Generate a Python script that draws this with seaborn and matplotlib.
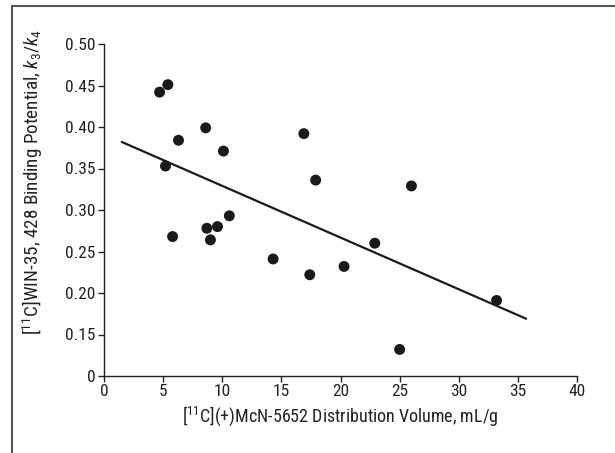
import numpy as np
import pandas as pd
import matplotlib
matplotlib.use("Agg")
import matplotlib.pyplot as plt
import seaborn as sns
from matplotlib import font_manager
from matplotlib.lines import Line2D

# data
mcn_volume = [4.7, 5.4, 6.3, 5.2, 8.6, 10.1, 16.9, 17.9, 5.8, 8.7,
              9.0, 9.6, 10.6, 14.3, 17.4, 22.9, 20.3, 26.0, 33.2, 25.0]
win_bp = [0.442, 0.451, 0.384, 0.353, 0.399, 0.371, 0.392, 0.336, 0.268, 0.278,
          0.264, 0.280, 0.293, 0.241, 0.222, 0.260, 0.232, 0.329, 0.191, 0.132]
fit_x = [1.5, 35.7]
fit_y = [0.382, 0.169]
ytick_vals = [0.10, 0.15, 0.20, 0.25, 0.30, 0.35, 0.40, 0.45, 0.50]
ytick_labels = ["0", "0.15", "0.20", "0.25", "0.30", "0.35", "0.40", "0.45", "0.50"]
xtick_vals = [0, 5, 10, 15, 20, 25, 30, 35, 40]

df = pd.DataFrame({"x": mcn_volume, "y": win_bp})
fit = pd.DataFrame({"x": fit_x, "y": fit_y})

sns.set_style("ticks")

# condensed face if there is one, Roboto otherwise
installed = {f.name for f in font_manager.fontManager.ttflist}
narrow = [n for n in ["Liberation Sans Narrow", "Roboto Condensed", "Arial Narrow",
                      "Open Sans Condensed"] if n in installed]
if narrow:
    face = narrow[0]
    tick_fs, xlab_fs, ylab_fs = 12.5, 13, 13.8
else:
    face = "Roboto"
    tick_fs, xlab_fs, ylab_fs = 11, 11.5, 12
plt.rcParams["font.family"] = [face, "DejaVu Sans"]
plt.rcParams["mathtext.fontset"] = "custom"
plt.rcParams["mathtext.rm"] = face
plt.rcParams["mathtext.it"] = face + ":italic"
plt.rcParams["mathtext.sf"] = face

fig = plt.figure(figsize=(6.15, 4.53), dpi=100)
ax = fig.add_axes([104 / 615, 1 - 376 / 453, 473 / 615, 332 / 453])

sns.lineplot(data=fit, x="x", y="y", color="#1a1a1a", linewidth=1.6, ax=ax)
sns.scatterplot(data=df, x="x", y="y", color="#1a1a1a", s=62, edgecolor="none",
                ax=ax, zorder=3, clip_on=False)

ax.set_xlim(0, 40)
ax.set_ylim(0.10, 0.50)
ax.set_xticks(xtick_vals)
ax.set_xticklabels([str(v) for v in xtick_vals])
ax.set_yticks(ytick_vals)
ax.set_yticklabels(ytick_labels)
sns.despine(ax=ax)
for s in ["left", "bottom"]:
    ax.spines[s].set_linewidth(1.0)
    ax.spines[s].set_color("#222222")
ax.tick_params(direction="out", length=4, width=1.0, colors="#222222",
               labelsize=tick_fs, labelcolor="#222222", pad=2)

ax.set_xlabel(r"[$^{11}$C](+)McN-5652 Distribution Volume, mL/g",
              fontsize=xlab_fs, color="#222222")
ax.xaxis.set_label_coords(0.5, -0.085)
ax.set_ylabel(r"[$^{11}$C]WIN-35, 428 Binding Potential, $k_3/k_4$",
              fontsize=ylab_fs, color="#222222")
ax.yaxis.set_label_coords(-0.125, 0.583)

# frame around the panel (top and left edges only)
fig.add_artist(Line2D([12 / 615, 1.0], [1 - 5.5 / 453, 1 - 5.5 / 453],
                      transform=fig.transFigure, color="#555555", linewidth=1.5))
fig.add_artist(Line2D([12 / 615, 12 / 615], [0.0, 1 - 5.5 / 453],
                      transform=fig.transFigure, color="#555555", linewidth=1.5))

fig.savefig("out.png", dpi=100)
